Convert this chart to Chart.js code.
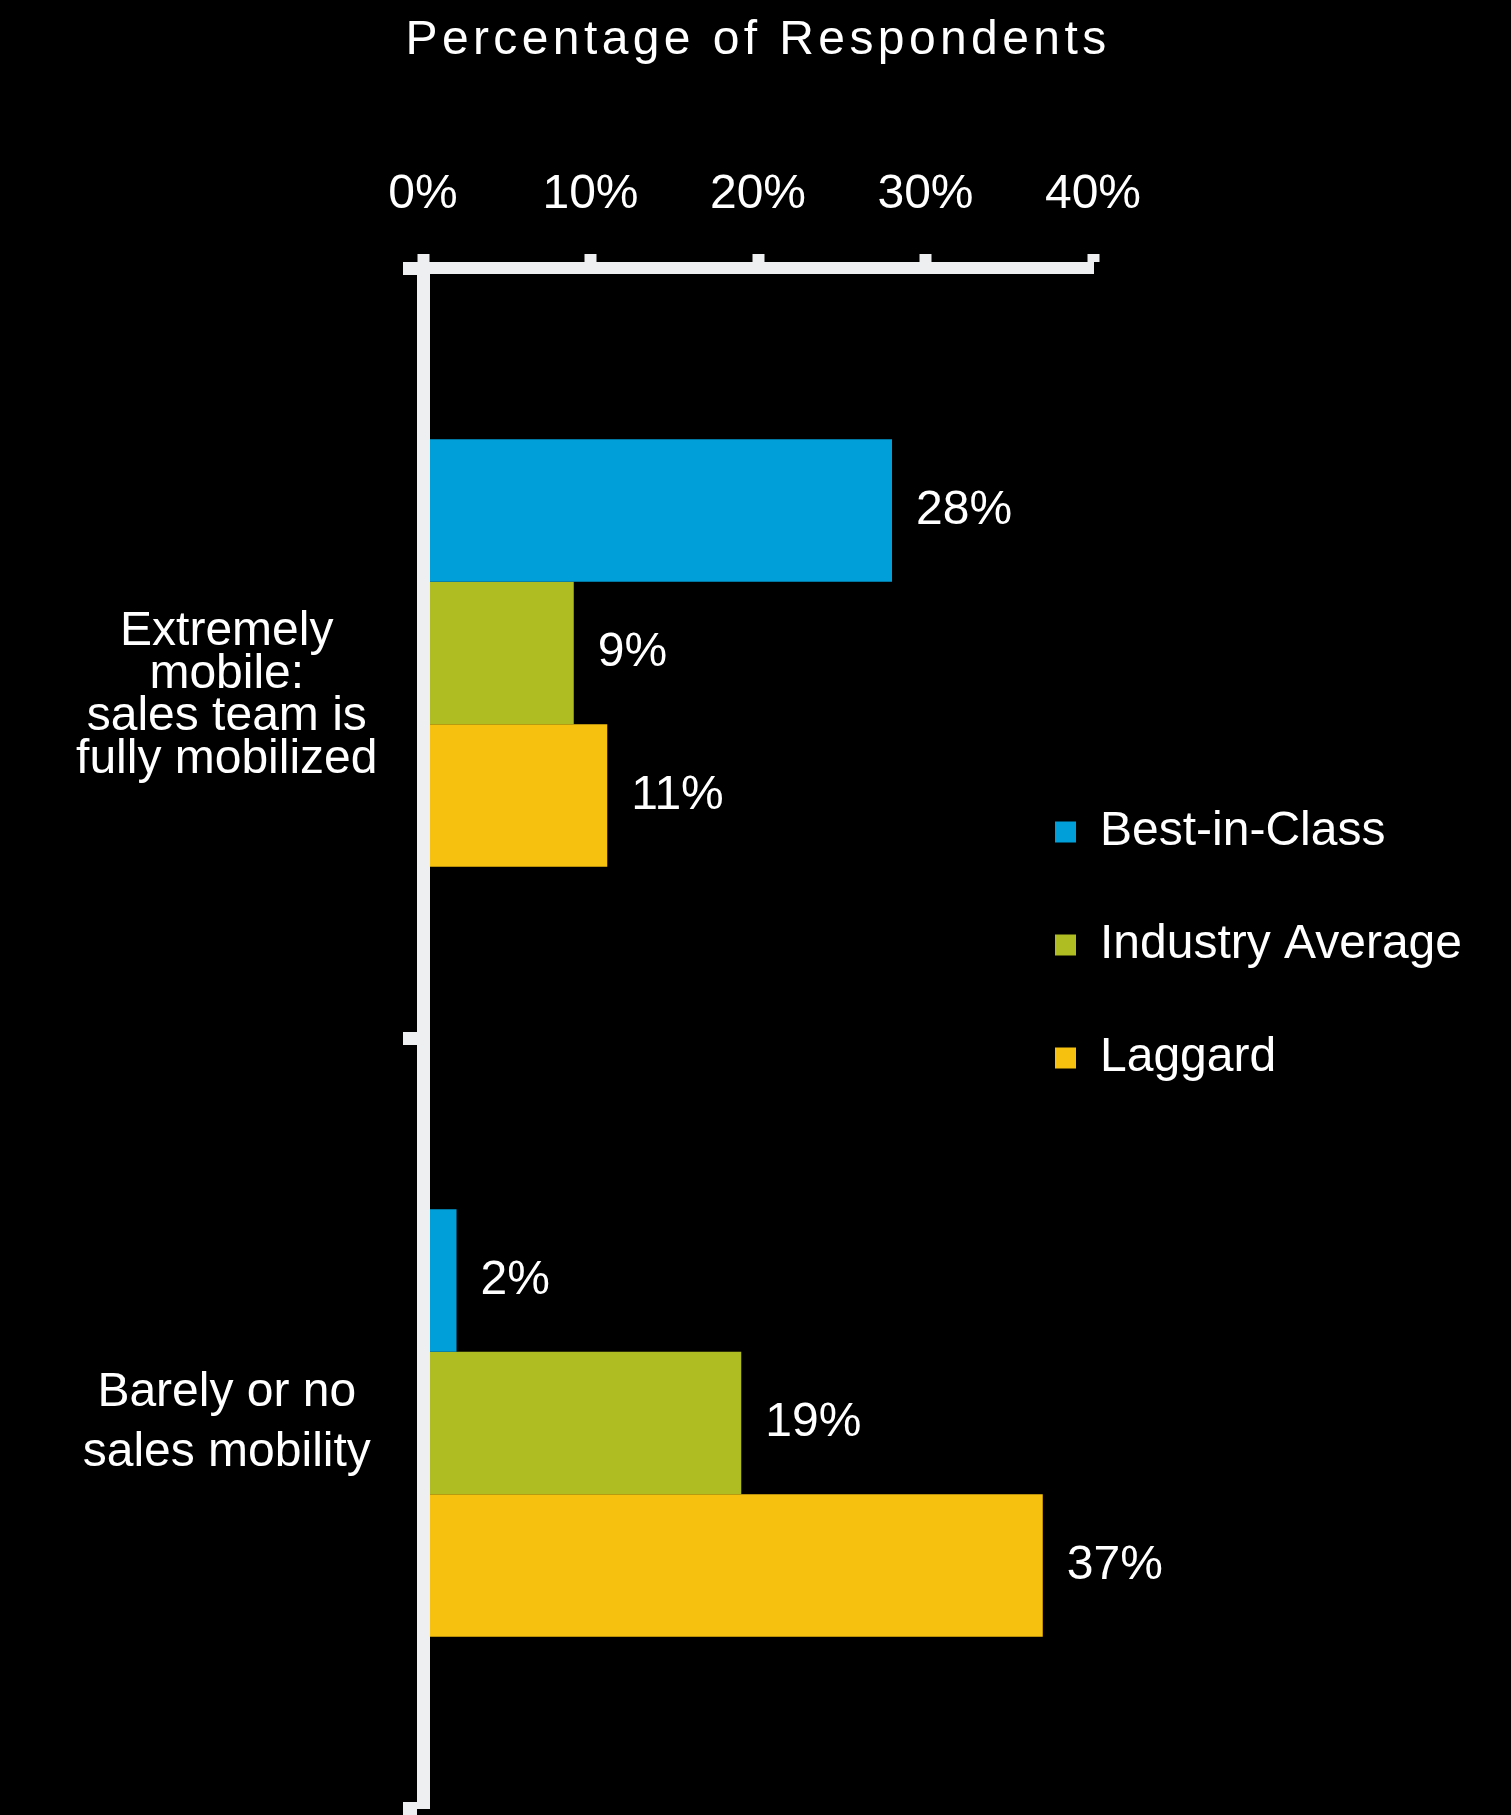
<!DOCTYPE html>
<html><head><meta charset="utf-8">
<script src="https://cdn.jsdelivr.net/npm/chart.js@4/dist/chart.umd.min.js"></script>
<style>html,body{margin:0;padding:0;background:#000;}canvas{display:block;}</style>
</head><body>
<canvas id="c" width="1511" height="1815"></canvas>
<script>
const categories = [["Extremely", "mobile:", "sales team is", "fully mobilized"], ["Barely or no", "sales mobility"]];
const seriesNames = ["Best-in-Class", "Industry Average", "Laggard"];
const bestInClass = [28, 2];
const industryAverage = [9, 19];
const laggard = [11, 37];
const xTickValues = [0, 10, 20, 30, 40];
const xTickLabels = ["0%", "10%", "20%", "30%", "40%"];
const titleText = "Percentage of Respondents";

const FONT = '"Liberation Sans", Arial, Helvetica, sans-serif';
const AXIS = '#eeeff1';
const WHITE = '#ffffff';
const COLORS = ['#009fda', '#afbc22', '#f7c10f'];

const spacedTitle = {
  id: 'spacedTitle',
  beforeDraw(chart) {
    const tb = chart.titleBlock;
    if (tb && !tb._spaced) {
      const orig = tb.draw;
      tb.draw = function () {
        const c = this.ctx, l = this.left, r = this.right;
        c.save();
        c.letterSpacing = '4.4px';
        this.left = l - 200; this.right = r + 200;
        orig.call(this);
        this.left = l; this.right = r;
        c.restore();
      };
      tb._spaced = true;
    }
  }
};

const placeLegend = {
  id: 'placeLegend',
  afterLayout(chart) {
    const lg = chart.legend;
    if (!lg) return;
    lg.left = 990; lg.top = 743; lg.right = 1511; lg.bottom = 1815;
    lg.width = lg.right - lg.left; lg.height = lg.bottom - lg.top;
  }
};

const valueLabels = {
  id: 'valueLabels',
  afterDatasetsDraw(chart) {
    const ctx = chart.ctx;
    ctx.save();
    ctx.font = '48px ' + FONT;
    ctx.fillStyle = WHITE;
    ctx.textAlign = 'left';
    ctx.textBaseline = 'middle';
    chart.data.datasets.forEach((ds, di) => {
      const meta = chart.getDatasetMeta(di);
      meta.data.forEach((bar, i) => {
        ctx.fillText(ds.data[i] + '%', bar.x + 24, bar.y);
      });
    });
    ctx.restore();
  }
};

const seriesData = [bestInClass, industryAverage, laggard];

new Chart(document.getElementById('c'), {
  type: 'bar',
  data: {
    labels: categories,
    datasets: seriesNames.map((n, i) => ({
      label: n,
      data: seriesData[i],
      backgroundColor: COLORS[i],
      borderWidth: 0,
      categoryPercentage: 0.555,
      barPercentage: 1.0
    }))
  },
  options: {
    indexAxis: 'y',
    responsive: false,
    animation: false,
    devicePixelRatio: 1,
    layout: { padding: { left: 0, right: 418, top: 0, bottom: 7 } },
    scales: {
      x: {
        position: 'top',
        min: 0, max: 40,
        afterBuildTicks: (s) => { s.ticks = xTickValues.map(v => ({ value: v })); },
        afterFit: (s) => { s.height = 198.4; s.paddingLeft = 0; s.paddingRight = 0; },
        ticks: {
          color: WHITE,
          z: 1,
          font: { size: 48, family: FONT, lineHeight: 1.2 },
          padding: 30.5,
          maxRotation: 0,
          autoSkip: false,
          callback: (v) => xTickLabels[xTickValues.indexOf(v)]
        },
        grid: { z: 1, drawOnChartArea: false, drawTicks: true, tickLength: 14, tickWidth: 12, tickColor: AXIS },
        border: { z: 1, display: true, width: 12, color: AXIS }
      },
      y: {
        position: 'left',
        offset: true,
        afterFit: (s) => { s.width = 423; s.paddingTop = 0; s.paddingBottom = 0; },
        ticks: {
          color: WHITE,
          z: 1,
          crossAlign: 'center',
          padding: 25.5,
          font: (c) => ({ size: 48, family: FONT, lineHeight: c.index === 0 ? 0.89 : 1.25 }),
          callback: function (v, i) {
            const l = this.getLabelForValue(v);
            return i === 0 ? ['', ''].concat(l) : l;
          }
        },
        grid: { z: 1, offset: true, drawOnChartArea: false, drawTicks: true, tickLength: 20, tickWidth: 13, tickColor: AXIS },
        border: { z: 1, display: true, width: 13, color: AXIS }
      }
    },
    plugins: {
      title: {
        display: true,
        text: titleText,
        color: WHITE,
        fullSize: false,
        font: { size: 48, family: FONT, weight: 'normal', lineHeight: 1.2 },
        padding: { top: 12, bottom: 0 }
      },
      legend: {
        display: true,
        position: 'chartArea',
        align: 'start',
        labels: {
          color: WHITE,
          boxWidth: 21,
          boxHeight: 21,
          padding: 65,
          font: { size: 48, family: FONT }
        }
      },
      tooltip: { enabled: false }
    }
  },
  plugins: [spacedTitle, placeLegend, valueLabels]
});
</script>
</body></html>
